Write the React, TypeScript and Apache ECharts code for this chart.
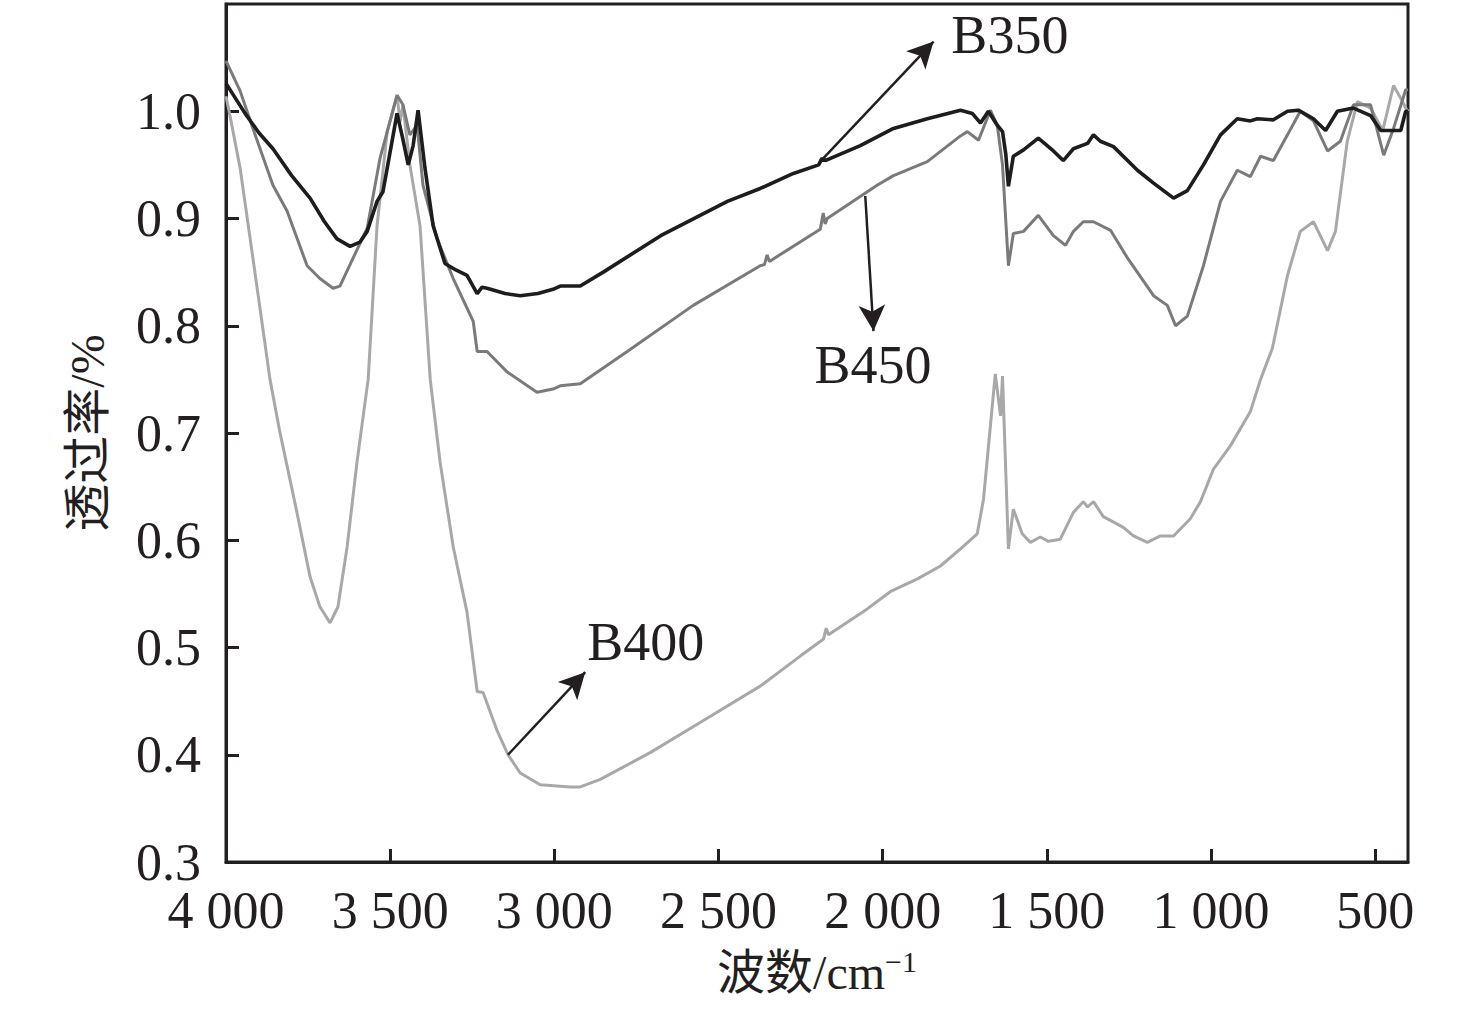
import React, { useEffect, useRef } from "react";
import * as echarts from "echarts";

// FTIR spectra: [wavenumber (cm^-1), transmittance]
const seriesNames = ["B350", "B450", "B400"];

const b350: number[][] = [
  [4000, 1.026], [3942, 0.998], [3900, 0.98], [3857, 0.965], [3800, 0.94], [3744, 0.919], [3700, 0.897],
  [3662, 0.881], [3622, 0.874], [3592, 0.878], [3570, 0.888], [3540, 0.916], [3522, 0.925], [3509, 0.947],
  [3479, 0.998], [3462, 0.975], [3445, 0.95], [3430, 0.968], [3415, 1.001], [3394, 0.947], [3369, 0.893],
  [3333, 0.858], [3300, 0.852], [3266, 0.847], [3235, 0.83], [3220, 0.836], [3205, 0.835], [3150, 0.83],
  [3104, 0.828], [3050, 0.83], [3004, 0.834], [2982, 0.837], [2921, 0.837], [2851, 0.85], [2676, 0.884],
  [2473, 0.916], [2373, 0.928], [2272, 0.942], [2195, 0.95], [2185, 0.956], [2175, 0.954], [2068, 0.968],
  [1967, 0.984], [1864, 0.993], [1763, 1.001], [1727, 0.998], [1702, 0.989], [1678, 1.0], [1651, 0.987],
  [1635, 0.981], [1625, 0.96], [1617, 0.93], [1602, 0.958], [1571, 0.964], [1526, 0.975], [1480, 0.963],
  [1450, 0.954], [1419, 0.965], [1376, 0.97], [1358, 0.978], [1337, 0.972], [1297, 0.967], [1224, 0.945],
  [1175, 0.933], [1114, 0.919], [1072, 0.926], [1023, 0.95], [971, 0.978], [920, 0.993], [880, 0.991],
  [859, 0.993], [810, 0.992], [767, 1.0], [734, 1.001], [688, 0.993], [651, 0.982], [615, 1.0], [566, 1.003],
  [514, 0.996], [483, 0.982], [422, 0.982], [407, 1.0], [400, 1.0],
];

const b450: number[][] = [
  [4000, 1.047], [3957, 1.019], [3918, 0.984], [3857, 0.931], [3814, 0.907], [3753, 0.856], [3714, 0.844],
  [3674, 0.835], [3653, 0.837], [3613, 0.863], [3570, 0.891], [3531, 0.956], [3479, 1.015], [3461, 1.006],
  [3440, 0.978], [3418, 0.987], [3400, 0.931], [3357, 0.881], [3308, 0.844], [3247, 0.804], [3235, 0.776],
  [3205, 0.776], [3144, 0.757], [3053, 0.738], [3004, 0.741], [2982, 0.744], [2921, 0.746], [2778, 0.776],
  [2577, 0.819], [2373, 0.856], [2360, 0.857], [2352, 0.866], [2345, 0.86], [2190, 0.89], [2181, 0.905],
  [2175, 0.895], [2169, 0.9], [2017, 0.931], [1967, 0.94], [1864, 0.953], [1763, 0.977], [1742, 0.981],
  [1708, 0.973], [1672, 1.001], [1651, 0.987], [1635, 0.95], [1617, 0.856], [1602, 0.886], [1571, 0.888],
  [1526, 0.903], [1480, 0.884], [1443, 0.875], [1419, 0.888], [1389, 0.897], [1358, 0.897], [1306, 0.889],
  [1254, 0.863], [1175, 0.828], [1133, 0.819], [1108, 0.8], [1072, 0.809], [1023, 0.856], [971, 0.916],
  [920, 0.945], [880, 0.939], [849, 0.958], [810, 0.954], [767, 0.978], [728, 1.0], [688, 0.991], [645, 0.963],
  [606, 0.972], [566, 1.006], [514, 1.006], [474, 0.959], [444, 0.984], [407, 1.02], [400, 1.02],
];

const b400: number[][] = [
  [4000, 1.014], [3988, 0.996], [3957, 0.947], [3918, 0.863], [3866, 0.75], [3836, 0.701], [3784, 0.626],
  [3744, 0.566], [3714, 0.538], [3683, 0.523], [3659, 0.538], [3631, 0.594], [3601, 0.673], [3567, 0.75],
  [3540, 0.893], [3509, 0.981], [3479, 1.015], [3470, 0.99], [3461, 1.006], [3440, 0.95], [3409, 0.893],
  [3378, 0.75], [3348, 0.673], [3308, 0.594], [3266, 0.533], [3235, 0.459], [3217, 0.458], [3175, 0.423],
  [3141, 0.4], [3104, 0.383], [3043, 0.372], [2952, 0.37], [2921, 0.37], [2860, 0.377], [2708, 0.402],
  [2556, 0.43], [2373, 0.464], [2251, 0.492], [2180, 0.508], [2172, 0.518], [2165, 0.512], [2047, 0.536],
  [1977, 0.552], [1894, 0.564], [1824, 0.576], [1763, 0.592], [1712, 0.606], [1693, 0.638], [1657, 0.755],
  [1641, 0.716], [1635, 0.753], [1617, 0.592], [1602, 0.629], [1575, 0.606], [1550, 0.598], [1520, 0.603],
  [1495, 0.599], [1459, 0.601], [1419, 0.626], [1389, 0.636], [1376, 0.631], [1358, 0.636], [1328, 0.622],
  [1267, 0.612], [1236, 0.604], [1194, 0.598], [1154, 0.604], [1114, 0.604], [1063, 0.62], [1032, 0.636],
  [993, 0.666], [941, 0.688], [880, 0.72], [849, 0.75], [813, 0.779], [767, 0.847], [728, 0.888], [688, 0.897],
  [645, 0.87], [621, 0.888], [585, 0.972], [554, 1.009], [514, 1.003], [477, 0.982], [444, 1.024],
  [422, 1.012], [407, 1.003], [400, 1.0],
];

const xTicks = [500, 1000, 1500, 2000, 2500, 3000, 3500, 4000];
const yTicks = [0.3, 0.4, 0.5, 0.6, 0.7, 0.8, 0.9, 1.0];

// annotation arrows [fromX, fromY] -> [toX, toY] and label centres [x, y]
const arrowFrom = [[2181, 0.956], [2053, 0.921], [3141, 0.4]];
const arrowTo = [[1845, 1.065], [2028, 0.795], [2906, 0.477]];
const labelAt = [[1611, 1.071], [2028, 0.763], [2720, 0.505]];

const FONT = "'Liberation Serif', 'Times New Roman', 'Noto Sans CJK SC', serif";
const INK = "#231f20";

export default function App() {
  const ref = useRef<HTMLDivElement>(null);
  useEffect(() => {
    if (!ref.current) return;
    const chart = echarts.init(ref.current, undefined, { renderer: "svg" });
    const colors = ["#1e1c1c", "#7a7a7a", "#a8a8a8"];
    const widths = [3.6, 3, 3];
    const datas = [b350, b450, b400];
    const lineSeries = datas.map((d, i) => ({
      name: seriesNames[i],
      type: "line",
      data: d,
      showSymbol: false,
      symbol: "none",
      lineStyle: { color: colors[i], width: widths[i] },
      z: 3 - i,
      silent: true,
    }));
    const fmtX = (v: number) => {
      const s = String(Math.round(v));
      return s.length > 3 ? s.slice(0, s.length - 3) + " " + s.slice(-3) : s;
    };
    chart.setOption({
      animation: false,
      backgroundColor: "#ffffff",
      grid: {
        left: 226,
        right: 68,
        top: 4,
        bottom: 148,
        show: true,
        borderColor: INK,
        borderWidth: 3,
        backgroundColor: "transparent",
      },
      xAxis: {
        type: "value",
        inverse: true,
        min: 400,
        max: 4000,
        name: "波数/cm{sup|−1}",
        nameLocation: "middle",
        nameGap: 84,
        nameTextStyle: {
          fontFamily: FONT,
          fontSize: 48,
          color: INK,
          rich: {
            sup: { fontFamily: FONT, fontSize: 30, color: INK, padding: [0, 0, 24, 0] },
          },
        },
        axisLine: { show: true, onZero: false, lineStyle: { color: INK, width: 3 } },
        axisTick: { show: true, inside: true, length: 13, lineStyle: { color: INK, width: 3 }, customValues: xTicks },
        axisLabel: {
          customValues: xTicks,
          formatter: (v: number) => fmtX(v),
          fontFamily: FONT,
          fontSize: 52,
          lineHeight: 36,
          color: INK,
          margin: 30,
        },
        splitLine: { show: false },
      },
      yAxis: {
        type: "value",
        min: 0.3,
        max: 1.1,
        interval: 0.1,
        name: "透过率/%",
        nameLocation: "middle",
        nameRotate: 90,
        nameGap: 115,
        nameTextStyle: { fontFamily: FONT, fontSize: 48, color: INK },
        axisLine: { show: true, lineStyle: { color: INK, width: 3 } },
        axisTick: { show: true, inside: true, length: 13, lineStyle: { color: INK, width: 3 }, customValues: yTicks },
        axisLabel: {
          customValues: yTicks,
          formatter: (v: number) => v.toFixed(1),
          fontFamily: FONT,
          fontSize: 52,
          lineHeight: 36,
          color: INK,
          margin: 25,
        },
        splitLine: { show: false },
      },
      series: [
        ...lineSeries,
        {
          type: "line",
          data: [],
          silent: true,
          markLine: {
            silent: true,
            animation: false,
            symbol: ["none", "arrow"],
            symbolSize: [20, 26],
            lineStyle: { color: INK, width: 2.5, type: "solid", opacity: 1 },
            label: { show: false },
            data: arrowFrom.map((f, i) => [{ coord: f }, { coord: arrowTo[i] }]),
          },
        },
        {
          type: "scatter",
          symbolSize: 1,
          itemStyle: { color: "transparent", opacity: 0 },
          silent: true,
          data: labelAt.map((p, i) => ({ value: p, name: seriesNames[i] })),
          label: {
            show: true,
            position: [0, 0],
            align: "center",
            verticalAlign: "middle",
            formatter: (p: any) => p.name,
            fontFamily: FONT,
            fontSize: 54,
            color: INK,
            opacity: 1,
            textBorderWidth: 0,
          },
        },
      ],
    });
    return () => chart.dispose();
  }, []);
  return (
    <div
      ref={ref}
      style={{ position: "fixed", left: 0, top: 0, width: 1476, height: 1010, background: "#fff" }}
    />
  );
}
